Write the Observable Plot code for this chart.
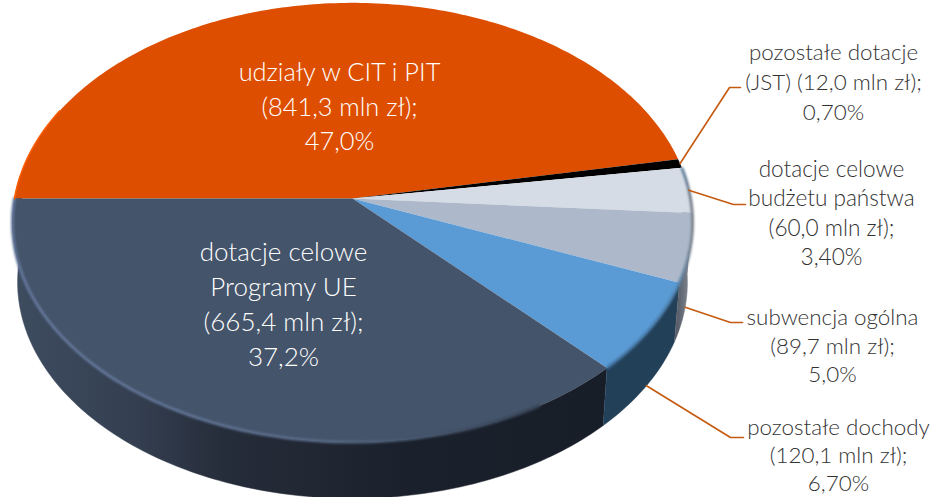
<!DOCTYPE html>
<html><head><meta charset="utf-8">
<script src="https://cdn.jsdelivr.net/npm/d3@7"></script>
<script src="https://cdn.jsdelivr.net/npm/@observablehq/plot@0.6"></script>
<style>html,body{margin:0;padding:0;background:#fff}svg{display:block}</style>
</head><body><div id="chart"></div>
<script>
// --- data ---
const names = ["udziały w CIT i PIT", "pozostałe dotacje (JST)", "dotacje celowe budżetu państwa", "subwencja ogólna", "pozostałe dochody", "dotacje celowe Programy UE"];
const values = [841.3, 12.0, 60.0, 89.7, 120.1, 665.4];
const labels = [
  "udziały w CIT i PIT\n(841,3 mln zł);\n47,0%",
  "pozostałe dotacje\n(JST) (12,0 mln zł);\n0,70%",
  "dotacje celowe\nbudżetu państwa\n(60,0 mln zł);\n3,40%",
  "subwencja ogólna\n(89,7 mln zł);\n5,0%",
  "pozostałe dochody\n(120,1 mln zł);\n6,70%",
  "dotacje celowe\nProgramy UE\n(665,4 mln zł);\n37,2%"
];

// --- styles ---
const faceColors = ["#DD4E00", "#000000", "#D6DCE5", "#ADB9CA", "#5B9BD5", "#44546A"];
const wallFills = ["none", "none", "#7d838d", "url(#wallGrey)", "#234059", "url(#wallDark)"];
const font = "Lato, Carlito, 'Open Sans', sans-serif";

// --- layout (canvas units) ---
const W = 931, H = 497;
const view = {cx: 352, cy: 198, a: 338, b: 217, k: 0.109, depth: 60, shrink: 0.985, start: 180};
const textLayout = [
  {x: 339, y: 104, size: 25.4, lh: 34.5, fill: "#fff"},
  {x: 833, y: 80, size: 22.4, lh: 30, fill: "#333"},
  {x: 831, y: 211, size: 22.6, lh: 29.5, fill: "#333"},
  {x: 832, y: 344, size: 22.4, lh: 28.5, fill: "#333"},
  {x: 838, y: 454, size: 22.4, lh: 28, fill: "#333"},
  {x: 283, y: 302, size: 26, lh: 35, fill: "#fff"}
];
// leader elbow and end beside each outer label; "wall" leaders start on the lower rim
const leaderLayout = {
  1: {elbow: [729, 87], end: [740, 87], wall: false},
  2: {elbow: [733, 204], end: [745, 204], wall: false},
  3: {elbow: [730, 322], end: [742, 322], wall: true},
  4: {elbow: [730, 437], end: [743, 437], wall: true}
};

// --- geometry: a circle seen in perspective ---
const rad = d => d * Math.PI / 180;
function rim(theta, lower = false) {
  const s = Math.sin(rad(theta)), c = Math.cos(rad(theta)), w = 1 - view.k * s;
  const f = lower ? view.shrink : 1;
  return {x: view.cx + f * view.a * c / w, y: view.cy + f * view.b * s / w + (lower ? view.depth : 0)};
}
const total = d3.sum(values);
let acc = view.start;
const slices = values.map((v, i) => {
  const a0 = acc; acc += v / total * 360;
  return {i, a0, a1: acc, mid: (a0 + acc) / 2};
});
const arc = (a0, a1, lower) => {
  const n = Math.max(2, Math.ceil(Math.abs(a1 - a0)));
  return d3.range(n + 1).map(j => rim(a0 + (a1 - a0) * j / n, lower));
};
const face = s => [{x: view.cx, y: view.cy}, ...arc(s.a0, s.a1, false)];
function wall(s) {
  const norm = t => ((t % 360) + 360) % 360;
  let a0 = s.a0, a1 = s.a1;
  if (s.i === 5) { a0 = norm(s.a0); a1 = 186; }       // dark slice, through the left edge
  else if (s.i === 2) { a0 = -6; a1 = norm(s.a1); }   // light slice, crossing the right edge
  return [...arc(a0, a1, false), ...arc(a1, a0, true)];
}
const leader = s => {
  const l = leaderLayout[s.i];
  const p = rim(s.mid, l.wall);
  return [p, {x: l.elbow[0], y: l.elbow[1]}, {x: l.end[0], y: l.end[1]}];
};

const gradient = (id, x1, x2, stops) => {
  const g = d3.create("svg:linearGradient").attr("id", id).attr("gradientUnits", "userSpaceOnUse")
    .attr("x1", x1).attr("x2", x2).attr("y1", 0).attr("y2", 0);
  stops.forEach(([o, c]) => g.append("stop").attr("offset", o).attr("stop-color", c));
  return g.node();
};
const defs = () => {
  const d = d3.create("svg:defs");
  [
    gradient("wallDark", 15, 610, [[0, "#3e4c60"], [0.2, "#343f51"], [0.35, "#262d3a"], [0.65, "#1b212c"], [1, "#181e28"]]),
    gradient("wallGrey", 660, 690, [[0, "#444c58"], [0.6, "#5a616c"], [1, "#858b94"]]),
    gradient("rimDark", 12, 600, [[0, "#62769a"], [0.35, "#5d7090"], [0.55, "#566783"], [0.7, "#44546A"], [1, "#2a3442"]]),
    gradient("rimRight", 610, 692, [[0, "#3f6f9c"], [0.8, "#4d80ad"], [1, "#80868f"]])
  ].forEach(n => d.append(() => n));
  return d.node();
};

const marks = [
  defs,
  // side wall
  ...slices.filter(s => wallFills[s.i] !== "none").reverse().map(s =>
    Plot.line(wall(s), {x: "x", y: "y", fill: wallFills[s.i], stroke: wallFills[s.i], strokeWidth: 0.5})),
  // top faces
  ...slices.map(s => Plot.line(face(s), {x: "x", y: "y", fill: faceColors[s.i], stroke: "none"})),
  // bevel along the rim
  Plot.line(arc(60, 180, false), {x: "x", y: "y", stroke: "url(#rimDark)", strokeWidth: 3, imageFilter: "blur(1px)"}),
  Plot.line(arc(-8, 46, false), {x: "x", y: "y", stroke: "url(#rimRight)", strokeWidth: 3, imageFilter: "blur(1px)"}),
  Plot.line(arc(180, 205, false), {x: "x", y: "y", stroke: "#ff5c00", strokeWidth: 1.5}),
  // leaders
  ...slices.filter(s => leaderLayout[s.i]).map(s =>
    Plot.line(leader(s), {x: "x", y: "y", stroke: "#C55A11", strokeWidth: 1.6})),
  // labels
  ...slices.map(s => {
    const t = textLayout[s.i];
    return Plot.text([labels[s.i]], {
      x: () => t.x, y: () => t.y, text: d => d, fill: t.fill, fontSize: t.size,
      lineHeight: t.lh / t.size, fontFamily: font, fontWeight: 300, textAnchor: "middle", lineAnchor: "middle"
    });
  })
];

document.getElementById("chart").append(Plot.plot({
  width: W, height: H, margin: 0,
  style: {background: "#fff", overflow: "hidden"},
  x: {domain: [0, W], range: [0, W], axis: null},
  y: {domain: [0, H], range: [0, H], axis: null},
  marks
}));
</script></body></html>
